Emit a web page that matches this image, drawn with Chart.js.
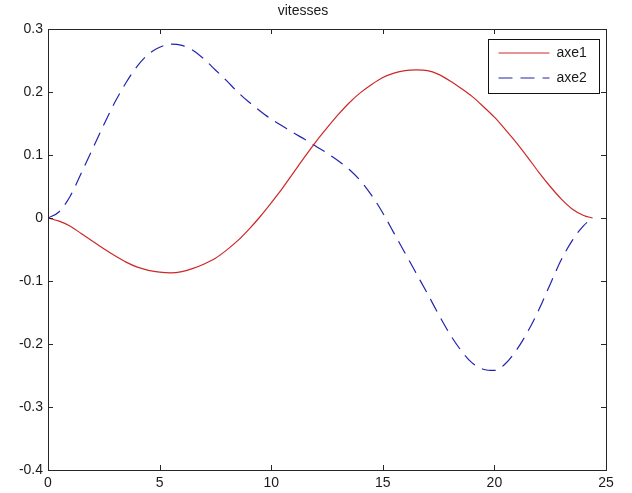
<!DOCTYPE html>
<html>
<head>
<meta charset="utf-8">
<title>vitesses</title>
<script src="https://cdn.jsdelivr.net/npm/chart.js@4.4.1/dist/chart.umd.min.js"></script>
<style>
  html, body { margin: 0; padding: 0; background: #fff; }
  #wrap { width: 632px; height: 493px; }
</style>
</head>
<body>
<div id="wrap"><canvas id="chart"></canvas></div>
<script>
// Data (time axis shared by both curves)
const timeValues = [
  0, 0.5, 1, 1.5, 2, 2.5, 3, 3.5, 4, 4.5,
  5, 5.5, 6, 6.5, 7, 7.5, 8, 8.5, 9, 9.5,
  10, 10.5, 11, 11.5, 12, 12.5, 13, 13.5, 14, 14.5,
  15, 15.5, 16, 16.5, 17, 17.5, 18, 18.5, 19, 19.5,
  20, 20.5, 21, 21.5, 22, 22.5, 23, 23.5, 24, 24.4
];
const axe1Values = [
  0, -0.005, -0.013, -0.025, -0.037, -0.049, -0.060, -0.070, -0.078, -0.083,
  -0.086, -0.087, -0.085, -0.080, -0.073, -0.064, -0.051, -0.036, -0.018, 0.002,
  0.024, 0.047, 0.072, 0.097, 0.121, 0.143, 0.164, 0.183, 0.199, 0.212,
  0.223, 0.230, 0.234, 0.235, 0.234, 0.228, 0.218, 0.206, 0.193, 0.177,
  0.160, 0.140, 0.119, 0.096, 0.072, 0.050, 0.030, 0.014, 0.004, 0
];
const axe2Values = [
  0, 0.010, 0.035, 0.072, 0.110, 0.148, 0.184, 0.215, 0.241, 0.260,
  0.271, 0.276, 0.274, 0.266, 0.252, 0.235, 0.218, 0.200, 0.184, 0.170,
  0.157, 0.146, 0.135, 0.125, 0.114, 0.103, 0.091, 0.077, 0.059, 0.036,
  0.008, -0.024, -0.056, -0.088, -0.120, -0.153, -0.184, -0.210, -0.230, -0.240,
  -0.242, -0.231, -0.209, -0.180, -0.145, -0.105, -0.066, -0.035, -0.012, 0
];
const seriesLabels = ['axe1', 'axe2'];
const chartTitle = 'vitesses';

const FONT = '"Liberation Sans", Arial, sans-serif';
const RED = 'rgb(205, 40, 40)';
const BLUE = 'rgb(35, 35, 175)';
const AXIS = '#262626';
const TEXT = '#1a1a1a';

const toPoints = ys => timeValues.map((t, i) => ({ x: t, y: ys[i] }));

// MATLAB style box with inward ticks + legend box in the top-right corner
const matlabFrame = {
  id: 'matlabFrame',
  afterDatasetsDraw(chart) {
    const { ctx, chartArea: a, scales } = chart;
    const tick = 5;
    ctx.save();
    ctx.strokeStyle = AXIS;
    ctx.lineWidth = 1;
    ctx.beginPath();
    scales.x.ticks.forEach(t => {
      const px = Math.round(scales.x.getPixelForValue(t.value)) + 0.5;
      ctx.moveTo(px, a.bottom); ctx.lineTo(px, a.bottom - tick);
      ctx.moveTo(px, a.top); ctx.lineTo(px, a.top + tick);
    });
    scales.y.ticks.forEach(t => {
      const py = Math.round(scales.y.getPixelForValue(t.value)) + 0.5;
      ctx.moveTo(a.left, py); ctx.lineTo(a.left + tick, py);
      ctx.moveTo(a.right, py); ctx.lineTo(a.right - tick, py);
    });
    ctx.stroke();
    ctx.strokeRect(Math.round(a.left) + 0.5, Math.round(a.top) + 0.5,
                   Math.round(a.right - a.left), Math.round(a.bottom - a.top));

    // legend
    const bw = 111, bh = 54;
    const bx = Math.round(a.right) - 118 + 0.5, by = Math.round(a.top) + 10 + 0.5;
    ctx.fillStyle = '#fff';
    ctx.fillRect(bx, by, bw, bh);
    ctx.strokeStyle = '#111';
    ctx.strokeRect(bx, by, bw, bh);
    chart.data.datasets.forEach((ds, i) => {
      const ly = by + 13.5 + i * 25;
      ctx.strokeStyle = ds.borderColor;
      ctx.setLineDash(ds.borderDash || []);
      ctx.beginPath();
      ctx.moveTo(bx + 10, ly); ctx.lineTo(bx + 61, ly);
      ctx.stroke();
      ctx.setLineDash([]);
      ctx.fillStyle = TEXT;
      ctx.font = '14px ' + FONT;
      ctx.textBaseline = 'middle';
      ctx.textAlign = 'left';
      ctx.fillText(ds.label, bx + 68, ly);
    });
    ctx.restore();
  }
};

const noPad = scale => {
  scale.paddingLeft = 0; scale.paddingRight = 0;
  scale.paddingTop = 0; scale.paddingBottom = 0;
};

new Chart(document.getElementById('chart'), {
  type: 'line',
  data: {
    datasets: [
      {
        label: seriesLabels[0],
        data: toPoints(axe1Values),
        borderColor: RED,
        borderWidth: 1.2,
        pointRadius: 0,
        cubicInterpolationMode: 'monotone',
        fill: false
      },
      {
        label: seriesLabels[1],
        data: toPoints(axe2Values),
        borderColor: BLUE,
        borderWidth: 1.2,
        borderDash: [14, 8],
        pointRadius: 0,
        cubicInterpolationMode: 'monotone',
        fill: false
      }
    ]
  },
  options: {
    responsive: true,
    maintainAspectRatio: false,
    animation: false,
    layout: { padding: { left: 0, right: 26, top: 0, bottom: 0 } },
    plugins: {
      legend: { display: false },
      tooltip: { enabled: false },
      title: {
        display: true,
        text: chartTitle,
        color: TEXT,
        font: { family: FONT, size: 14, weight: 'normal' },
        padding: { top: 3, bottom: 9.2 }
      }
    },
    scales: {
      x: {
        type: 'linear',
        min: 0,
        max: 25,
        ticks: {
          stepSize: 5,
          color: TEXT,
          padding: 5,
          maxRotation: 0,
          font: { family: FONT, size: 14 }
        },
        grid: { display: false, drawTicks: false },
        border: { display: false },
        afterFit(scale) { scale.height = 23; noPad(scale); }
      },
      y: {
        min: -0.4,
        max: 0.3,
        ticks: {
          stepSize: 0.1,
          color: TEXT,
          padding: 5,
          font: { family: FONT, size: 14 },
          callback: v => String(Math.round(v * 10) / 10)
        },
        grid: { display: false, drawTicks: false },
        border: { display: false },
        afterFit(scale) { scale.width = 48; noPad(scale); }
      }
    }
  },
  plugins: [matlabFrame]
});
</script>
</body>
</html>
